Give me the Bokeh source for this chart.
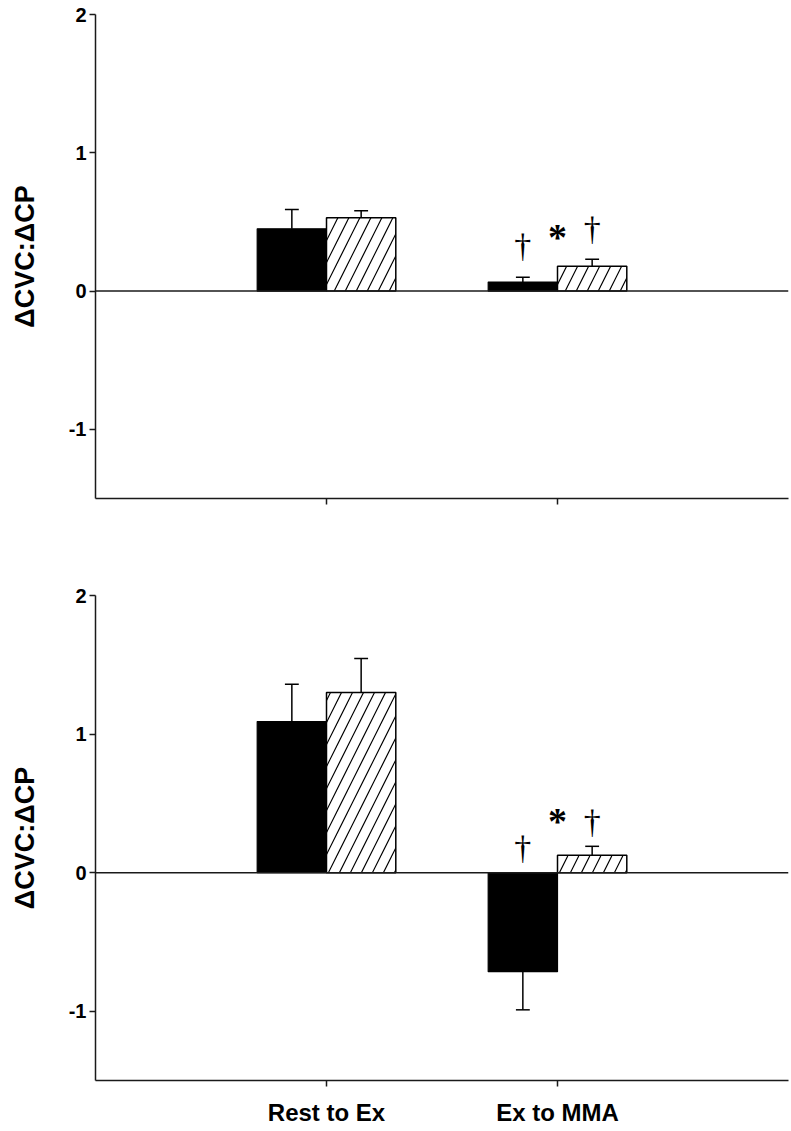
from bokeh.plotting import figure
from bokeh.layouts import column
from bokeh.models import FixedTicker, Span, Range1d
from bokeh.core.properties import value
from bokeh.embed import file_html
from bokeh.resources import INLINE

# ---- data ----
groups = ["Rest to Ex", "Ex to MMA"]
group_pos = [1, 2]
y_ticks = [-1, 0, 1, 2]
y_tick_labels = ["-1", "0", "1", "2"]

top_solid = [0.45, 0.065]
top_solid_err = [0.14, 0.035]
top_hatched = [0.53, 0.18]
top_hatched_err = [0.05, 0.05]

bottom_solid = [1.09, -0.715]
bottom_solid_err = [0.27, 0.275]
bottom_hatched = [1.30, 0.125]
bottom_hatched_err = [0.245, 0.065]

mark_symbols = ["\u2020", "*", "\u2020"]
top_mark_y = [0.33, 0.39, 0.455]
bottom_mark_y = [0.18, 0.37, 0.37]

AX = "#1a1a1a"
FONT = "Liberation Sans"


def make_panel(solid, solid_err, hatched, hatched_err, mark_y, height,
               b_top, b_bottom, show_labels):
    p = figure(width=791, height=height, x_range=Range1d(0, 3.0),
               y_range=Range1d(-1.5, 2.0), output_backend="svg",
               toolbar_location=None, min_border_left=95, min_border_right=3,
               min_border_top=b_top, min_border_bottom=b_bottom)
    p.outline_line_color = None
    p.grid.visible = False
    p.background_fill_color = "white"

    bw = 0.3
    xs_solid = [g - bw / 2 for g in group_pos]
    xs_hatch = [g + bw / 2 for g in group_pos]

    p.vbar(x=xs_solid, top=solid, bottom=0, width=bw, fill_color="black",
           line_color="black", line_width=1.2)
    p.vbar(x=xs_hatch, top=hatched, bottom=0, width=bw, fill_color="white",
           line_color="black", line_width=1.5, hatch_pattern="/",
           hatch_scale=22, hatch_color="black", hatch_weight=1.2)

    # error bars (one-sided, away from zero)
    cap = 0.03
    for xs, vals, errs in ((xs_solid, solid, solid_err), (xs_hatch, hatched, hatched_err)):
        ends = [v + e if v >= 0 else v - e for v, e in zip(vals, errs)]
        p.segment(x0=xs, y0=vals, x1=xs, y1=ends, line_color="black", line_width=1.5)
        p.segment(x0=[x - cap for x in xs], y0=ends, x1=[x + cap for x in xs], y1=ends,
                  line_color="black", line_width=1.5)

    p.add_layout(Span(location=0, dimension="width", line_color=AX, line_width=1.5))

    # significance marks over second group
    g = group_pos[1]
    mx = [g - bw / 2, g, g + bw / 2]
    daggers = [i for i, s in enumerate(mark_symbols) if s == "\u2020"]
    stars = [i for i, s in enumerate(mark_symbols) if s == "*"]
    p.text(x=[mx[i] for i in daggers], y=[mark_y[i] for i in daggers],
           text=[mark_symbols[i] for i in daggers], text_font=value("Liberation Serif"),
           text_font_size="34px", text_align="center", text_baseline="middle",
           text_color="black")
    p.text(x=[mx[i] for i in stars], y=[mark_y[i] for i in stars],
           text=[mark_symbols[i] for i in stars], text_font=value("Liberation Serif"),
           text_font_size="38px", text_font_style="bold", text_align="center",
           text_baseline="middle", text_color="black")

    # y axis
    p.yaxis.ticker = FixedTicker(ticks=y_ticks)
    p.yaxis.major_label_overrides = {t: lab for t, lab in zip(y_ticks, y_tick_labels)}
    p.yaxis.axis_label = "\u0394CVC:\u0394CP"
    p.yaxis.axis_label_text_font = FONT
    p.yaxis.axis_label_text_font_style = "bold"
    p.yaxis.axis_label_text_font_size = "27px"
    p.yaxis.axis_label_text_color = "black"
    p.yaxis.axis_label_standoff = 26
    p.yaxis.major_label_text_font = FONT
    p.yaxis.major_label_text_font_style = "bold"
    p.yaxis.major_label_text_font_size = "20px"
    p.yaxis.major_label_text_color = "black"
    p.yaxis.major_label_standoff = 3
    p.yaxis.major_tick_out = 6
    p.yaxis.major_tick_in = 0
    p.yaxis.minor_tick_line_color = None
    p.yaxis.axis_line_width = 1.5
    p.yaxis.axis_line_color = AX
    p.yaxis.major_tick_line_width = 1.5
    p.yaxis.major_tick_line_color = AX

    # x axis
    p.xaxis.ticker = FixedTicker(ticks=group_pos)
    p.xaxis.minor_tick_line_color = None
    p.xaxis.major_tick_out = 6
    p.xaxis.major_tick_in = 0
    p.xaxis.axis_line_width = 1.5
    p.xaxis.axis_line_color = AX
    p.xaxis.major_tick_line_width = 1.5
    p.xaxis.major_tick_line_color = AX
    p.xaxis.major_label_text_font = FONT
    p.xaxis.major_label_text_font_style = "bold"
    p.xaxis.major_label_text_font_size = "24px"
    p.xaxis.major_label_text_color = "black"
    p.xaxis.major_label_standoff = 12
    if show_labels:
        p.xaxis.major_label_overrides = {pos: lab for pos, lab in zip(group_pos, groups)}
    else:
        p.xaxis.major_label_overrides = {pos: "" for pos in group_pos}
    return p


p1 = make_panel(top_solid, top_solid_err, top_hatched, top_hatched_err, top_mark_y,
                height=548, b_top=14, b_bottom=50, show_labels=False)
p2 = make_panel(bottom_solid, bottom_solid_err, bottom_hatched, bottom_hatched_err,
                bottom_mark_y, height=583, b_top=47, b_bottom=51, show_labels=True)

layout = column(p1, p2)
open("out.html", "w").write(file_html(layout, INLINE))
